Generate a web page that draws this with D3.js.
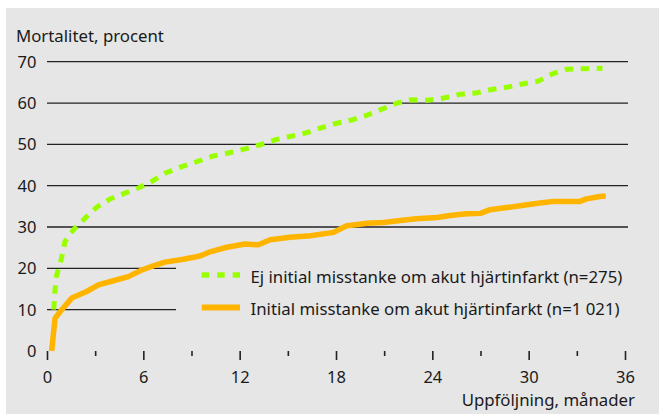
<!DOCTYPE html>
<html><head><meta charset="utf-8">
<script src="https://cdn.jsdelivr.net/npm/d3@7/dist/d3.min.js"></script>
<style>html,body{margin:0;padding:0;background:#fff;}svg{display:block;}</style>
</head><body>
<svg id="c" width="659" height="414"></svg>
<script>
// Data
const monthsGreen = [0.42, 0.5, 0.6, 0.9, 1.12, 1.64, 2.37, 3.1, 3.93, 4.86, 5.79, 6.6, 7.35, 8.39, 9.33, 10.36, 11.3, 12.23, 13.27, 14.2, 15.14, 16.07, 17.0, 17.94, 18.98, 19.9, 20.85, 21.8, 22.7, 23.7, 24.7, 25.7, 26.7, 27.6, 28.6, 29.6, 30.6, 31.45, 32.4, 33.4, 34.6];
const valuesGreen = [10, 14.8, 18.4, 22.4, 26.5, 29.3, 32.1, 34.8, 36.8, 38.2, 39.6, 41.2, 43.0, 44.6, 45.8, 47.2, 47.9, 48.8, 49.9, 51.1, 51.9, 52.7, 53.9, 55.0, 55.9, 57.0, 58.5, 60.0, 60.8, 60.7, 61.2, 62.1, 62.4, 63.2, 63.8, 64.6, 65.3, 67.0, 68.2, 68.3, 68.4];
const monthsOrange = [0.29, 0.5, 0.81, 1.54, 2.47, 3.2, 4.13, 5.07, 5.9, 6.62, 7.35, 8.5, 9.53, 10.16, 11.2, 12.34, 13.17, 13.9, 15.14, 16.4, 17.84, 18.67, 19.1, 19.92, 20.95, 22.0, 23.0, 24.3, 25.1, 26.15, 27.0, 27.6, 28.64, 29.9, 30.7, 31.55, 33.2, 33.6, 34.45, 34.8];
const valuesOrange = [0, 7.9, 9.5, 12.8, 14.4, 16.0, 17.0, 18.0, 19.6, 20.6, 21.5, 22.2, 23.0, 24.0, 25.1, 25.9, 25.7, 26.9, 27.5, 27.9, 28.7, 30.3, 30.5, 30.9, 31.1, 31.6, 32.0, 32.3, 32.8, 33.2, 33.3, 34.2, 34.7, 35.4, 35.8, 36.2, 36.2, 36.8, 37.4, 37.5];
const yTicks = [0, 10, 20, 30, 40, 50, 60, 70];
const xMajorTicks = [0, 6, 12, 18, 24, 30, 36];
const xMinorTicks = [3, 9, 15, 21, 27, 33];
const seriesNames = ["Ej initial misstanke om akut hjärtinfarkt (n=275)", "Initial misstanke om akut hjärtinfarkt (n=1 021)"];
const yTitle = "Mortalitet, procent";
const xTitle = "Uppföljning, månader";

const FONT = "'Noto Sans', sans-serif";
const TXT = "#1a1a1a";
const GREEN = "#99ff00", ORANGE = "#ffb400";
const FS = 16.8, FSN = 16.5;

const svg = d3.select("#c");
svg.append("rect").attr("x", 6).attr("y", 8).attr("width", 653).attr("height", 406).attr("fill", "#e6e6e6");

const x = d3.scaleLinear().domain([0, 36]).range([47, 625]);
const y = d3.scaleLinear().domain([0, 70]).range([351, 61.7]);

// gridlines
const grid = svg.append("g");
yTicks.filter(v => v > 0).forEach(v => {
  const x2 = (v === 10 || v === 20) ? 176 : x(36) + 3;
  grid.append("line").attr("x1", x(0)).attr("x2", x2)
    .attr("y1", y(v)).attr("y2", y(v))
    .attr("stroke", "#222").attr("stroke-width", 1.3);
});

// y labels
svg.append("g").selectAll("text").data(yTicks).join("text")
  .attr("x", 36.5).attr("y", d => y(d)).attr("dy", "0.36em")
  .attr("text-anchor", "end").attr("font-family", FONT).attr("font-size", FSN)
  .attr("fill", TXT).text(d => d);

// x axis ticks
const xAxisMajor = d3.axisBottom(x).tickValues(xMajorTicks).tickSize(9).tickPadding(4).tickFormat(d3.format("d"));
const gx = svg.append("g").attr("transform", `translate(0,${y(0)})`).call(xAxisMajor);
gx.select(".domain").remove();
gx.selectAll(".tick line").attr("stroke", "#222").attr("stroke-width", 1.6);
gx.selectAll(".tick text").attr("font-family", FONT).attr("font-size", FSN).attr("fill", TXT).attr("dy", "0.71em").attr("y", 20.5);
const xAxisMinor = d3.axisBottom(x).tickValues(xMinorTicks).tickSize(5).tickFormat("");
const gm = svg.append("g").attr("transform", `translate(0,${y(0)})`).call(xAxisMinor);
gm.select(".domain").remove();
gm.selectAll(".tick line").attr("stroke", "#222").attr("stroke-width", 1.6);

// titles
svg.append("text").attr("x", 16).attr("y", 41.5).attr("font-family", FONT).attr("font-size", FS)
  .attr("fill", TXT).text(yTitle);
svg.append("text").attr("x", 635).attr("y", 406).attr("text-anchor", "end").attr("font-family", FONT).attr("font-size", FS)
  .attr("fill", TXT).text(xTitle);

// lines
const line = d3.line().x(d => x(d[0])).y(d => y(d[1]));
const greenData = d3.zip(monthsGreen, valuesGreen);
const orangeData = d3.zip(monthsOrange, valuesOrange);
svg.append("path").attr("d", line(orangeData)).attr("fill", "none")
  .attr("stroke", ORANGE).attr("stroke-width", 5.5).attr("stroke-linejoin", "round");
svg.append("path").attr("d", line(greenData)).attr("fill", "none")
  .attr("stroke", GREEN).attr("stroke-width", 5).attr("stroke-dasharray", "8.5,7.5");

// legend
const lg = svg.append("g");
lg.append("line").attr("x1", 201.7).attr("x2", 240).attr("y1", 275).attr("y2", 275)
  .attr("stroke", GREEN).attr("stroke-width", 5.5).attr("stroke-dasharray", "7.5,8");
lg.append("line").attr("x1", 201.7).attr("x2", 240).attr("y1", 307.5).attr("y2", 307.5)
  .attr("stroke", ORANGE).attr("stroke-width", 6);
lg.append("text").attr("x", 250.5).attr("y", 283.3).attr("font-family", FONT).attr("font-size", FS).attr("fill", TXT).text(seriesNames[0]);
lg.append("text").attr("x", 250.5).attr("y", 315).attr("font-family", FONT).attr("font-size", FS).attr("fill", TXT).text(seriesNames[1]);
</script>
</body></html>
